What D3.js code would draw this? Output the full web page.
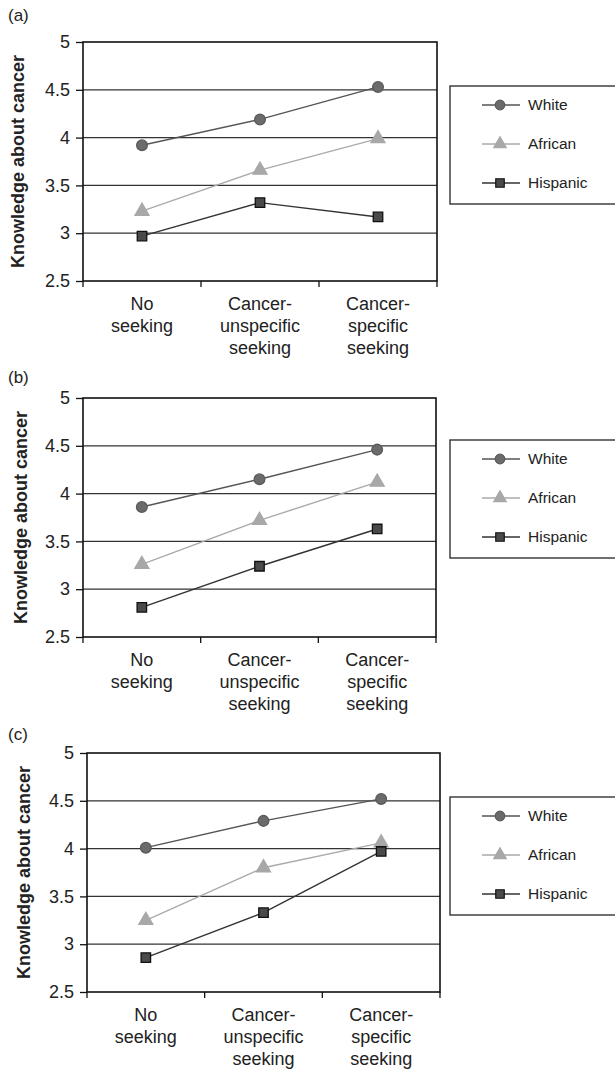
<!DOCTYPE html>
<html>
<head>
<meta charset="utf-8">
<script src="https://cdn.jsdelivr.net/npm/d3@7"></script>
<style>
  body { margin: 0; background: #fff; }
  svg { display: block; font-family: "Liberation Sans", Arial, sans-serif; }
</style>
</head>
<body>
<svg id="chart" width="615" height="1069"></svg>
<script>
// categories on the x axis (each one split in lines)
var categories = [["No", "seeking"], ["Cancer-", "unspecific", "seeking"], ["Cancer-", "specific", "seeking"]];
var seriesNames = ["White", "African", "Hispanic"];
var yTicks = [2.5, 3, 3.5, 4, 4.5, 5];

// values per panel: White, African, Hispanic
var panelA = [[3.92, 4.19, 4.53], [3.23, 3.66, 3.99], [2.97, 3.32, 3.17]];
var panelB = [[3.86, 4.15, 4.46], [3.26, 3.72, 4.12], [2.81, 3.24, 3.63]];
var panelC = [[4.01, 4.29, 4.52], [3.25, 3.80, 4.06], [2.86, 3.33, 3.97]];

var panelLabels = ["(a)", "(b)", "(c)"];

var svg = d3.select("#chart");

var styles = [
  {line: "#555", fill: "#6b6b6b", stroke: "#5a5a5a", shape: d3.symbolCircle, size: 90},
  {line: "#aaa", fill: "#a8a8a8", stroke: "#a8a8a8", shape: d3.symbolTriangle, size: 85},
  {line: "#333", fill: "#4a4a4a", stroke: "#111", shape: d3.symbolSquare, size: 90}
];

var layout = [
  {left: 83, right: 437, top: 42, legendTop: 86, labelY: 15, titleX: 18},
  {left: 83, right: 436, top: 398, legendTop: 440, labelY: 377, titleX: 21},
  {left: 87, right: 440, top: 753, legendTop: 797, labelY: 734, titleX: 24}
];

[panelA, panelB, panelC].forEach(function(data, p) {
  var L = layout[p];
  var bottom = L.top + 239;

  var x = d3.scaleBand()
      .domain(d3.range(categories.length))
      .range([L.left, L.right]);

  var y = d3.scaleLinear()
      .domain([2.5, 5])
      .range([bottom, L.top]);

  var g = svg.append("g");

  g.append("text")
      .attr("x", 8)
      .attr("y", L.labelY)
      .attr("dy", "0.35em")
      .attr("font-size", 17)
      .attr("fill", "#222")
      .text(panelLabels[p]);

  // grid lines
  g.selectAll(".grid")
    .data(yTicks.slice(1, -1))
    .enter().append("line")
      .attr("x1", L.left)
      .attr("x2", L.right)
      .attr("y1", function(d) { return y(d); })
      .attr("y2", function(d) { return y(d); })
      .attr("stroke", "#333")
      .attr("stroke-width", 1.2);

  // plot frame
  g.append("rect")
      .attr("x", L.left)
      .attr("y", L.top)
      .attr("width", L.right - L.left)
      .attr("height", bottom - L.top)
      .attr("fill", "none")
      .attr("stroke", "#111")
      .attr("stroke-width", 1.6);

  // y axis
  var yAxis = g.append("g")
      .attr("transform", "translate(" + L.left + ",0)")
      .call(d3.axisLeft(y).tickValues(yTicks).tickSize(7).tickPadding(6).tickFormat(d3.format("")));
  yAxis.select(".domain").remove();
  yAxis.selectAll("line").attr("stroke", "#111").attr("stroke-width", 1.3);
  yAxis.selectAll("text")
      .attr("font-size", 18)
      .attr("font-family", "Liberation Sans, Arial, sans-serif")
      .attr("fill", "#222");

  // x ticks between categories
  g.selectAll(".xtick")
    .data(d3.range(categories.length + 1))
    .enter().append("line")
      .attr("x1", function(i) { return L.left + i * x.step(); })
      .attr("x2", function(i) { return L.left + i * x.step(); })
      .attr("y1", bottom)
      .attr("y2", bottom + 6)
      .attr("stroke", "#111")
      .attr("stroke-width", 1.3);

  // x category labels
  var xAxis = g.append("g")
      .attr("transform", "translate(0," + bottom + ")")
      .call(d3.axisBottom(x).tickSize(0).tickFormat(""));
  xAxis.select(".domain").remove();
  xAxis.selectAll(".tick").append("text")
      .attr("text-anchor", "middle")
      .attr("font-size", 18)
      .attr("font-family", "Liberation Sans, Arial, sans-serif")
      .attr("fill", "#222")
    .selectAll("tspan")
    .data(function(i) { return categories[i]; })
    .enter().append("tspan")
      .attr("x", 0)
      .attr("y", function(d, k) { return 29 + k * 22; })
      .text(function(d) { return d; });

  // y title
  g.append("text")
      .attr("transform", "translate(" + L.titleX + "," + ((L.top + bottom) / 2) + ") rotate(-90)")
      .attr("text-anchor", "middle")
      .attr("dy", "0.35em")
      .attr("font-size", 18)
      .attr("font-weight", "bold")
      .attr("fill", "#222")
      .text("Knowledge about cancer");

  // series lines and markers
  var line = d3.line()
      .x(function(d, i) { return x(i) + x.bandwidth() / 2; })
      .y(function(d) { return y(d); });

  data.forEach(function(values, s) {
    var st = styles[s];
    g.append("path")
        .datum(values)
        .attr("fill", "none")
        .attr("stroke", st.line)
        .attr("stroke-width", 1.4)
        .attr("d", line);

    g.selectAll(".m" + s)
      .data(values)
      .enter().append("path")
        .attr("transform", function(d, i) {
          return "translate(" + (x(i) + x.bandwidth() / 2) + "," + y(d) + ")";
        })
        .attr("d", d3.symbol().type(st.shape).size(st.size))
        .attr("fill", st.fill)
        .attr("stroke", st.stroke)
        .attr("stroke-width", 1.3);
  });

  // legend
  var lg = g.append("g").attr("transform", "translate(450," + L.legendTop + ")");
  lg.append("rect")
      .attr("width", 180)
      .attr("height", 118)
      .attr("fill", "none")
      .attr("stroke", "#333")
      .attr("stroke-width", 1.4);

  seriesNames.forEach(function(name, s) {
    var st = styles[s];
    var ry = 19 + s * 39;
    lg.append("line")
        .attr("x1", 32).attr("x2", 70)
        .attr("y1", ry).attr("y2", ry)
        .attr("stroke", st.line)
        .attr("stroke-width", 1.4);
    lg.append("path")
        .attr("transform", "translate(50," + ry + ")")
        .attr("d", d3.symbol().type(st.shape).size(st.size * 0.8))
        .attr("fill", st.fill)
        .attr("stroke", st.stroke)
        .attr("stroke-width", 1.2);
    lg.append("text")
        .attr("x", 78)
        .attr("y", ry)
        .attr("dy", "0.35em")
        .attr("font-size", 15.5)
        .attr("fill", "#222")
        .text(name);
  });
});
</script>
</body>
</html>
